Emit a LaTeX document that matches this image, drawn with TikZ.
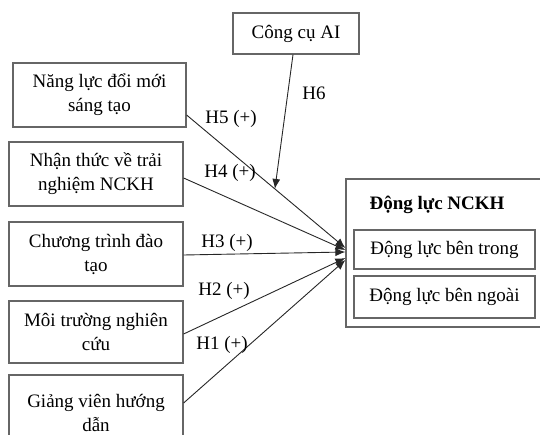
\documentclass[tikz,border=0pt]{standalone}
\usepackage{fontspec}
\setmainfont{Liberation Serif}
\usetikzlibrary{arrows.meta}
\begin{document}
\begin{tikzpicture}[x=1pt,y=-1pt,
  box/.style={draw=black!60,line width=1.2pt,align=center,inner sep=0pt,
    font=\fontsize{19}{24}\selectfont},
  lbl/.style={inner sep=0pt,font=\fontsize{19}{24}\selectfont},
  conn/.style={draw=black!85,line width=0.9pt,-{Latex[length=10pt,width=8pt]}}]
\useasboundingbox (0,0) rectangle (540,435);
% boxes
\node[box,minimum width=126pt,minimum height=41pt] (ai) at (296,33.5) {Công cụ AI};
\node[box,minimum width=173pt,minimum height=64pt] (b5) at (99.5,95) {Năng lực đổi mới\\sáng tạo};
\node[box,minimum width=174pt,minimum height=64pt] (b4) at (96,174) {Nhận thức về trải\\nghiệm NCKH};
\node[box,minimum width=174pt,minimum height=64pt] (b3) at (96,254) {Chương trình đào\\tạo};
\node[box,minimum width=174pt,minimum height=62pt] (b2) at (96,332) {Môi trường nghiên\\cứu};
\node[box,minimum width=174pt,minimum height=76pt] (b1) at (96,413) {Giảng viên hướng\\dẫn};
\node[box,minimum width=200pt,minimum height=148pt] (dl) at (446,253) {};
\node[lbl,font=\fontsize{19}{24}\selectfont\bfseries] (title) at (437,205) {Động lực NCKH};
\node[box,minimum width=181pt,minimum height=39pt] (in1) at (444.5,249.5) {Động lực bên trong};
\node[box,minimum width=181pt,minimum height=42pt] (in2) at (444.5,297) {Động lực bên ngoài};
% connectors
\draw[conn] ([yshift=-20pt]b5.east) -- coordinate[pos=0.556] (m) ([yshift=5pt]dl.west);
\draw[conn] ([yshift=-4pt]b4.east) -- ([yshift=3pt]dl.west);
\draw[conn] ([yshift=-1pt]b3.east) -- ([yshift=1pt]dl.west);
\draw[conn] ([yshift=-2pt]b2.east) -- ([yshift=-5pt]dl.west);
\draw[conn] ([yshift=10pt]b1.east) -- ([yshift=-7pt]dl.west);
\draw[conn] ([xshift=-3pt]ai.south) -- (m);
% labels
\node[lbl] (l5) at (231,119) {H5 (+)};
\node[lbl] (l4) at (230,173) {H4 (+)};
\node[lbl] (l3) at (227,243) {H3 (+)};
\node[lbl] (l2) at (224,291) {H2 (+)};
\node[lbl] (l1) at (222,345) {H1 (+)};
\node[lbl] (l6) at (314,93) {H6};
\end{tikzpicture}
\end{document}
